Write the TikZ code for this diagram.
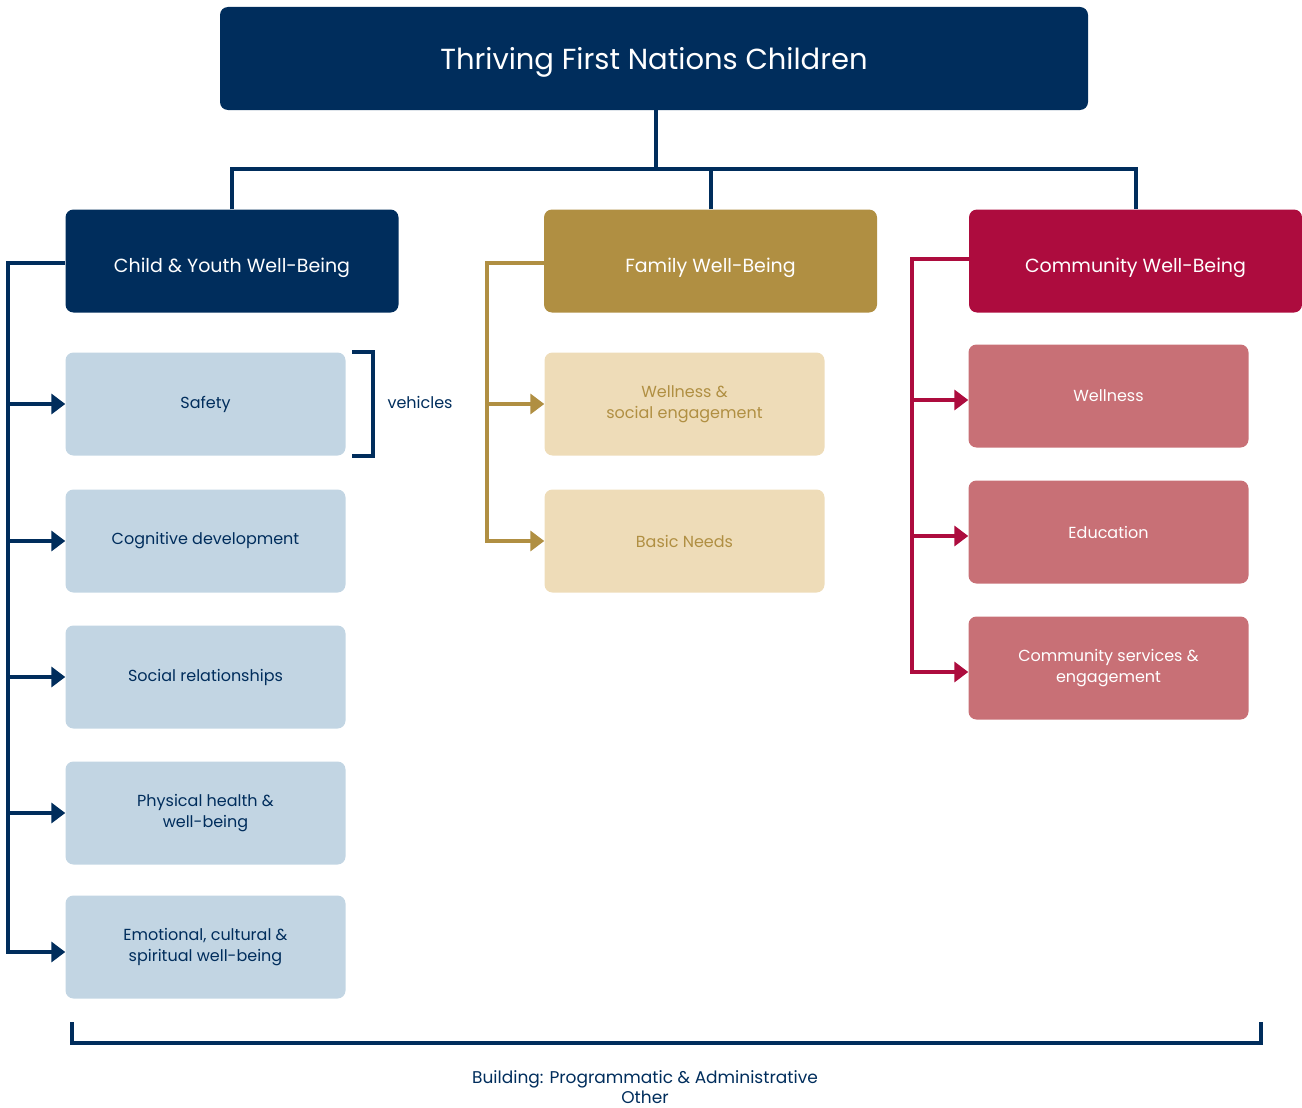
\documentclass[tikz,border=0pt]{standalone}
\usepackage{fontspec}
\setmainfont{Poppins}
\usetikzlibrary{arrows.meta,calc}
\definecolor{navy}{RGB}{0,45,92}
\definecolor{gold}{RGB}{176,143,66}
\definecolor{crim}{RGB}{173,12,62}
\definecolor{lblue}{RGB}{194,213,227}
\definecolor{lgold}{RGB}{238,220,184}
\definecolor{rose}{RGB}{200,112,118}
\begin{document}
\begin{tikzpicture}[x=1pt,y=-1pt,
  box/.style={rounded corners=8pt,inner sep=0pt,align=center},
  head/.style={box,minimum width=333pt,minimum height=103pt,text=white,font=\fontsize{19}{23}\selectfont,text height=27pt,text depth=5pt},
  sub/.style={box,minimum width=280pt,minimum height=103pt,font=\fontsize{16}{21}\selectfont},
  bsub/.style={sub,fill=lblue,text=navy},
  gsub/.style={sub,fill=lgold,text=gold},
  rsub/.style={sub,fill=rose,text=white},
  wire/.style={line width=4pt},
  arr/.style={wire,-{Triangle[length=14pt,width=20pt]}}]
\useasboundingbox (0,0) rectangle (1302,1108);
% title
\node[box,fill=navy,text=white,minimum width=868pt,minimum height=103pt,font=\fontsize{29}{34}\selectfont,text height=31pt,text depth=9pt] (title) at (654,58.5) {Thriving First Nations Children};
% headers
\node[head,fill=navy] (child) at (232,261) {Child \& Youth Well-Being};
\node[head,fill=gold] (fam) at (710.5,261) {Family Well-Being};
\node[head,fill=crim] (comm) at (1135.5,261) {Community Well-Being};
% tree connectors
\coordinate (hb) at (656,169);
\draw[wire,navy] (title.south -| hb) -- (hb);
\draw[wire,navy] (child.north) |- (hb) -| (comm.north);
\draw[wire,navy] (fam.north) -- (fam.north |- hb);
% child subs
\node[bsub] (safety) at (205.5,404) {Safety};
\node[bsub] (cog) at (205.5,541) {Cognitive development};
\node[bsub] (soc) at (205.5,677) {Social relationships};
\node[bsub] (phys) at (205.5,813) {Physical health \&\\well-being};
\node[bsub] (emo) at (205.5,947) {Emotional, cultural \&\\spiritual well-being};
\coordinate (cb) at (8,263);
\draw[wire,navy] ($(child.west)+(0,2)$) -- (cb) -- ($(cb |- emo.west)+(0,5)$) -- ++(2,0);
\foreach \n in {safety,cog,soc,phys}
  \draw[arr,navy] (cb |- \n.west) -- (\n.west);
\draw[arr,navy] ($(cb |- emo.west)+(0,5)$) -- ($(emo.west)+(0,5)$);
% vehicles bracket
\coordinate (vt) at (352,352);
\coordinate (vb) at (352,456);
\draw[wire,navy] (vt) -- ++(21,0) |- (vb);
\node[text=navy,font=\fontsize{16}{20}\selectfont,anchor=west] (veh) at (384,402) {vehicles};
% family subs
\node[gsub] (fwell) at (684.5,404) {Wellness \&\\social engagement};
\node[gsub] (basic) at (684.5,541) {Basic Needs};
\coordinate (fb) at (487,263);
\draw[wire,gold] ($(fam.west)+(0,2)$) -- (fb) -- (fb |- basic.west) -- ++(2,0);
\foreach \n in {fwell,basic}
  \draw[arr,gold] (fb |- \n.west) -- (\n.west);
% community subs
\node[rsub] (cwell) at (1108.5,396) {Wellness};
\node[rsub] (edu) at (1108.5,532) {Education};
\node[rsub] (csrv) at (1108.5,668) {Community services \&\\engagement};
\coordinate (kb) at (912,259);
\draw[wire,crim] ($(comm.west)+(0,-2)$) -- (kb) -- ($(kb |- csrv.west)+(0,4)$) -- ++(2,0);
\foreach \n in {cwell,edu,csrv}
  \draw[arr,crim] ($(kb |- \n.west)+(0,4)$) -- ($(\n.west)+(0,4)$);
% bottom bracket
\coordinate (bl) at (72,1022);
\coordinate (br) at (1261,1022);
\draw[wire,navy] (bl) |- (1261,1043) -- (br);
\node[text=navy,align=center,font=\fontsize{17}{20}\selectfont] (bottom) at (645,1087) {Building: Programmatic \& Administrative\\Other};
\end{tikzpicture}
\end{document}
